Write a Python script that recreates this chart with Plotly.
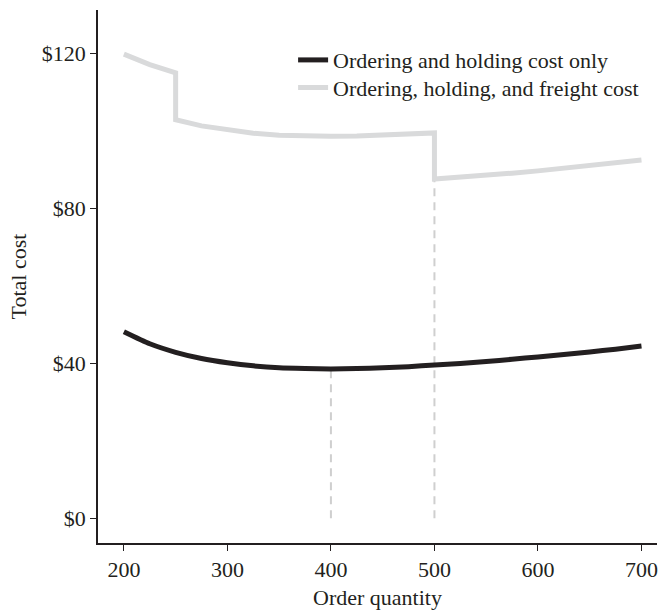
import plotly.graph_objects as go

# Order quantity values (x) and read-off total costs
qty = [200, 225, 250, 275, 300, 325, 350, 375, 400, 425, 450, 475, 500,
       525, 550, 575, 600, 625, 650, 675, 700]
cost_oh = [48.1, 45.0, 42.8, 41.2, 40.1, 39.3, 38.8, 38.6, 38.5, 38.6, 38.8,
           39.1, 39.5, 39.9, 40.4, 41.0, 41.6, 42.2, 42.9, 43.6, 44.4]

qty_f = [200, 225, 250, 250, 275, 300, 325, 350, 375, 400, 425, 450, 475, 500,
         500, 525, 550, 575, 600, 625, 650, 675, 700]
cost_ohf = [119.7, 117.0, 114.9, 102.8, 101.2, 100.1, 99.3, 98.8, 98.6, 98.5,
            98.6, 98.8, 99.1, 99.4, 87.5, 87.9, 88.4, 89.0, 89.6, 90.3, 91.0,
            91.7, 92.4]

# reference (dashed) markers: optimal quantities
opt_qty = [400, 500]
opt_cost = [38.5, 87.5]

series_names = ["Ordering and holding cost only",
                "Ordering, holding, and freight cost"]
x_ticks = [200, 300, 400, 500, 600, 700]
y_ticks = [0, 40, 80, 120]
y_tick_labels = ["$0", "$40", "$80", "$120"]

FONT = "Liberation Serif"
TXT = "#231f20"
FS = 22

fig = go.Figure()

for q, c in zip(opt_qty, opt_cost):
    fig.add_trace(go.Scatter(x=[q, q], y=[0, c], mode="lines",
                             line=dict(color="#cfcfcf", width=2, dash="8px,6px"),
                             showlegend=False, hoverinfo="skip"))

fig.add_trace(go.Scatter(x=qty, y=cost_oh, mode="lines", name=series_names[0],
                         line=dict(color="#231f20", width=5, shape="spline", smoothing=0.6),
                         legend="legend"))
fig.add_trace(go.Scatter(x=qty_f, y=cost_ohf, mode="lines", name=series_names[1],
                         line=dict(color="#d9dadb", width=5),
                         legend="legend2"))

leg_common = dict(xanchor="left", yanchor="middle", bgcolor="rgba(0,0,0,0)",
                  font=dict(size=FS, family=FONT, color=TXT), itemwidth=30)

fig.update_layout(
    width=659, height=610,
    margin=dict(l=98, r=2, t=10, b=67),
    paper_bgcolor="white", plot_bgcolor="white",
    font=dict(family=FONT, size=FS, color=TXT),
    legend=dict(x=0.349, y=0.906, **leg_common),
    legend2=dict(x=0.349, y=0.854, **leg_common),
    xaxis=dict(range=[175, 715], tickvals=x_ticks, showline=True, linecolor="#231f20",
               linewidth=1.5, ticks="outside", ticklen=6, tickcolor="#231f20",
               showgrid=False, zeroline=False,
               title=dict(text="Order quantity", standoff=10,
                          font=dict(size=FS, family=FONT, color=TXT))),
    yaxis=dict(range=[-6.4, 131.1], tickvals=y_ticks, ticktext=y_tick_labels,
               showline=True, linecolor="#231f20", linewidth=1.5, ticks="outside",
               ticklen=6, tickcolor="#231f20", showgrid=False, zeroline=False,
               title=dict(text="Total cost", standoff=9,
                          font=dict(size=FS, family=FONT, color=TXT))),
)

fig.write_html(
    "out.html",
    config={"displayModeBar": False},
    post_script="document.documentElement.style.margin='0';"
                "document.body.style.margin='0';"
                "document.body.style.overflow='hidden';",
)
